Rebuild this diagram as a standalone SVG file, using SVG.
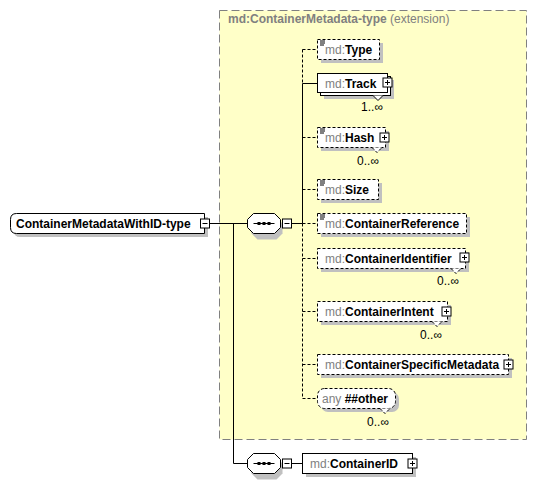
<svg xmlns="http://www.w3.org/2000/svg" width="537" height="483" viewBox="0 0 537 483">
<style>
text{font-family:"Liberation Sans",Arial,sans-serif;font-size:12px}
.ns{fill:#808080}
.nm{font-weight:bold;fill:#000}
.occ{fill:#000;font-size:12px}
.box{fill:#fff;stroke:#000;stroke-width:1}
.opt{stroke-dasharray:3,2}
.sh{fill:#c0c0c0}
.ln{stroke:#000;stroke-width:1;fill:none}
.dl{stroke:#000;stroke-width:1;fill:none;stroke-dasharray:3,2}
.ico{fill:#fff;stroke:#000;stroke-width:1}
</style>
<defs>
<g id="plus"><rect class="ico" x="-4.5" y="-4.5" width="9" height="9"/><path class="ln" d="M-2.5 0H2.5M0 -2.5V2.5"/></g>
<g id="minus"><rect class="ico" x="-4.5" y="-4.5" width="9" height="9"/><path class="ln" d="M-2.5 0H2.5"/></g>
<g id="st"><path class="ln" d="M0 0.5H5M0 2.5H5M0 4.5H4"/></g>
<g id="seq">
<path class="sh" d="M10 4H29L35 10V20L29 26H10L4 20V10Z"/>
<path class="box" d="M6 0H27L33 6V14L27 20H6L0 14V6Z"/>
<path class="ln" d="M6 10H27"/>
<rect x="10" y="8.5" width="3" height="3" fill="#000"/><rect x="15" y="8.5" width="3" height="3" fill="#000"/><rect x="20" y="8.5" width="3" height="3" fill="#000"/>
</g>
</defs>

<g id="ext">
<rect x="219.5" y="10.5" width="307" height="429" fill="#ffffc8" stroke="#808080" stroke-dasharray="8,4"/>
<text x="228" y="23"><tspan class="ns" font-weight="bold">md:ContainerMetadata-type</tspan><tspan class="ns"> (extension)</tspan></text>
</g>

<g id="connectors">
<path class="ln" d="M209.5 223.5H247M233.5 223.5V463.5H247"/>
<path class="ln" d="M291.5 223.5H302.5M291.5 463.5H302"/>
<path class="dl" d="M302.5 49.5V83.5"/>
<path class="ln" d="M302.5 83.5V223.5"/>
<path class="dl" d="M302.5 223.5V398.5"/>
<path class="dl" d="M302.5 49.5H317M302.5 137.5H317M302.5 189.5H317M302.5 223.5H317M302.5 258.5H317M302.5 311.5H317M302.5 364.5H317M302.5 398.5H317"/>
<path class="ln" d="M302.5 83.5H317"/>
</g>

<g id="root">
<path class="sh" d="M20 217H208V237H20Q14 237 14 231V223Q14 217 20 217Z"/>
<path class="box" d="M16.5 213.5H204.5V233.5H16.5Q10.5 233.5 10.5 227.5V219.5Q10.5 213.5 16.5 213.5Z"/>
<text x="16" y="228" class="nm">ContainerMetadataWithID-type</text>
<use href="#minus" x="205" y="223.5"/>
</g>

<g id="seq1"><use href="#seq" x="247.5" y="213.5"/><use href="#minus" x="287" y="223.5"/></g>

<g id="Type">
<rect class="sh" x="321" y="43" width="62" height="20"/>
<rect class="box opt" x="317.5" y="39.5" width="62" height="20"/>
<use href="#st" x="320" y="40.5"/>
<text x="325" y="54"><tspan class="ns">md:</tspan><tspan class="nm">Type</tspan></text>
</g>

<g id="Track">
<rect class="sh" x="324" y="80" width="70" height="19"/>
<rect class="box" x="320.5" y="76.5" width="70" height="19"/>
<rect class="box" x="317.5" y="73.5" width="70" height="19"/>
<path d="M373 95.5L378 100.5L383 95.5" fill="#fff" stroke="#000"/>
<text x="325" y="88"><tspan class="ns">md:</tspan><tspan class="nm">Track</tspan></text>
<use href="#plus" x="387.5" y="82.5"/>
<text x="383" y="111" class="occ" text-anchor="end">1..∞</text>
</g>

<g id="Hash">
<rect class="sh" x="321" y="131" width="68" height="20"/>
<rect class="box opt" x="317.5" y="127.5" width="68" height="20"/>
<use href="#st" x="320" y="128.5"/>
<path d="M372 147.5L377 152.5L382 147.5" fill="#fff" stroke="#000" stroke-dasharray="3,2"/>
<text x="325" y="142"><tspan class="ns">md:</tspan><tspan class="nm">Hash</tspan></text>
<use href="#plus" x="384.5" y="137.5"/>
<text x="379" y="165" class="occ" text-anchor="end">0..∞</text>
</g>

<g id="Size">
<rect class="sh" x="321" y="183" width="61" height="20"/>
<rect class="box opt" x="317.5" y="179.5" width="61" height="20"/>
<use href="#st" x="320" y="180.5"/>
<text x="325" y="194"><tspan class="ns">md:</tspan><tspan class="nm">Size</tspan></text>
</g>

<g id="ContainerReference">
<rect class="sh" x="321" y="217" width="149" height="20"/>
<rect class="box opt" x="317.5" y="213.5" width="149" height="20"/>
<use href="#st" x="320" y="214.5"/>
<text x="325" y="228"><tspan class="ns">md:</tspan><tspan class="nm">ContainerReference</tspan></text>
</g>

<g id="ContainerIdentifier">
<rect class="sh" x="321" y="252" width="148" height="20"/>
<rect class="box opt" x="317.5" y="248.5" width="148" height="20"/>
<path d="M451 268.5L456 273.5L461 268.5" fill="#fff" stroke="#000" stroke-dasharray="3,2"/>
<text x="325" y="263"><tspan class="ns">md:</tspan><tspan class="nm">ContainerIdentifier</tspan></text>
<use href="#plus" x="464.5" y="257.5"/>
<text x="459" y="285" class="occ" text-anchor="end">0..∞</text>
</g>

<g id="ContainerIntent">
<rect class="sh" x="321" y="305" width="130" height="20"/>
<rect class="box opt" x="317.5" y="301.5" width="130" height="20"/>
<path d="M432 321.5L437 326.5L442 321.5" fill="#fff" stroke="#000" stroke-dasharray="3,2"/>
<text x="325" y="316"><tspan class="ns">md:</tspan><tspan class="nm">ContainerIntent</tspan></text>
<use href="#plus" x="446.5" y="311.5"/>
<text x="442" y="339" class="occ" text-anchor="end">0..∞</text>
</g>

<g id="ContainerSpecificMetadata">
<rect class="sh" x="321" y="358" width="191" height="20"/>
<rect class="box opt" x="317.5" y="354.5" width="191" height="20"/>
<text x="325" y="369"><tspan class="ns">md:</tspan><tspan class="nm">ContainerSpecificMetadata</tspan></text>
<use href="#plus" x="508.5" y="364.5"/>
</g>

<g id="any">
<rect class="sh" x="321" y="392" width="78" height="20" rx="7"/>
<rect class="box opt" x="317.5" y="388.5" width="78" height="20" rx="7"/>
<path d="M380 408.5L385 413.5L390 408.5" fill="#fff" stroke="#000" stroke-dasharray="3,2"/>
<text x="322" y="403"><tspan class="ns">any </tspan><tspan class="nm">##other</tspan></text>
<text x="389" y="426" class="occ" text-anchor="end">0..∞</text>
</g>

<g id="seq2"><use href="#seq" x="247.5" y="453.5"/><use href="#minus" x="287" y="463.5"/></g>

<g id="ContainerID">
<rect class="sh" x="306" y="457" width="110" height="20"/>
<rect class="box" x="302.5" y="453.5" width="110" height="20"/>
<text x="310" y="468"><tspan class="ns">md:</tspan><tspan class="nm">ContainerID</tspan></text>
<use href="#plus" x="412.5" y="463.5"/>
</g>
</svg>
